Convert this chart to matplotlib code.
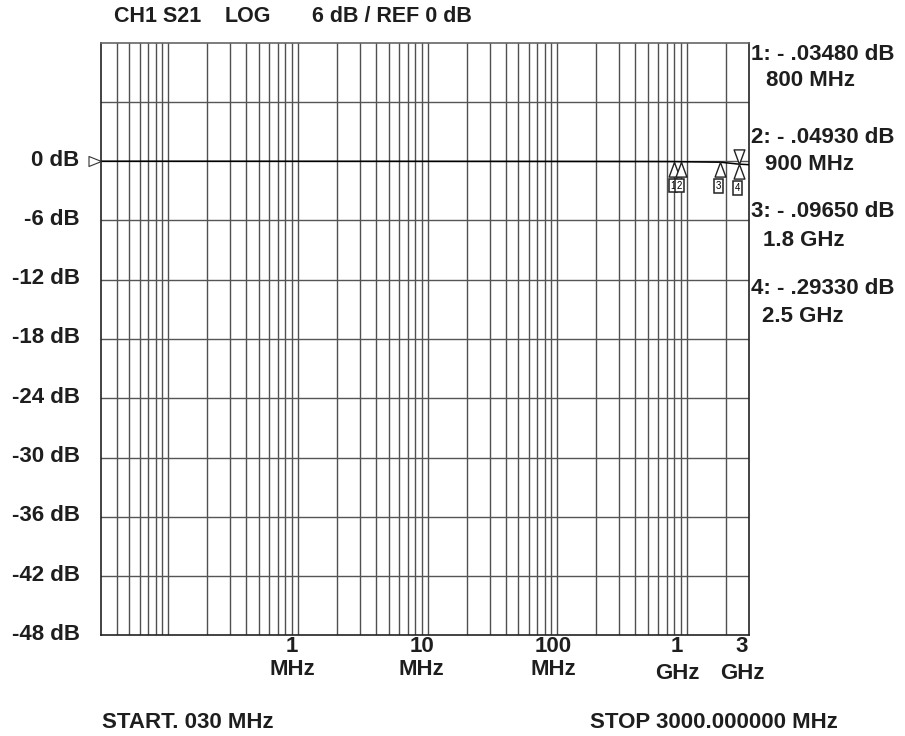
import numpy as np
import matplotlib
matplotlib.use("Agg")
import matplotlib.pyplot as plt
from matplotlib.path import Path

plt.rcParams["font.family"] = ["Liberation Sans", "DejaVu Sans"]
plt.rcParams["font.weight"] = "bold"

# trace (MHz, dB)
freq_mhz = [0.03, 0.1, 1, 10, 100, 500, 800, 900, 1800, 2500, 3000]
s21_db = [0.0, 0.0, -0.005, -0.01, -0.02, -0.03, -0.0348, -0.0493, -0.0965, -0.2933, -0.35]

# markers
mk_freq = [800, 900, 1800, 2500]
mk_db = [-0.0348, -0.0493, -0.0965, -0.2933]
mk_name = ["1", "2", "3", "4"]
mk_lines = [("1: - .03480 dB", "800 MHz"),
            ("2: - .04930 dB", "900 MHz"),
            ("3: - .09650 dB", "1.8 GHz"),
            ("4: - .29330 dB", "2.5 GHz")]

y_grid = [12, 6, 0, -6, -12, -18, -24, -30, -36, -42, -48]
y_lab_val = [0, -6, -12, -18, -24, -30, -36, -42, -48]

x_tick_pos = [1, 10, 100, 1000, 3000]
x_tick_num = ["1", "10", "100", "1", "3"]
x_tick_unit = ["MHz", "MHz", "MHz", "GHz", "GHz"]
x_tick_dx = [-6, -6, -4, -10, -7]

FS = 16
TXT = "#1e1e1e"

W, H = 905, 736
fig = plt.figure(figsize=(W / 100, H / 100), dpi=100)
ax = fig.add_axes([100.5 / W, 1 - 635.3 / H, 648.4 / W, 592.6 / H])

ax.set_xscale("log")
ax.set_xlim(0.03, 3000)
ax.set_ylim(-48, 12)
ax.set_xticks([])
ax.set_yticks([])
ax.minorticks_off()

# log grid: every 1..9 per decade
grid_x = []
for dec in [0.01, 0.1, 1, 10, 100, 1000]:
    for k in range(1, 10):
        f = dec * k
        if 0.03 < f < 3000:
            grid_x.append(f)
for f in grid_x:
    ax.axvline(f, color="#505050", lw=1.0, zorder=1)
for v in y_grid[1:-1]:
    ax.axhline(v, color="#555555", lw=1.0, zorder=1)

for s in ax.spines.values():
    s.set_color("#222222")
    s.set_linewidth(1.2)
ax.spines["top"].set_color("#666666")

# level labels
for v in y_lab_val:
    ax.annotate(f"{v} dB", xy=(0, v), xycoords=("axes fraction", "data"),
                xytext=(-21, 1), textcoords="offset pixels",
                ha="right", va="center", fontsize=FS, fontweight="bold", color=TXT)

# trace
ax.plot(freq_mhz, s21_db, color="black", lw=1.1, zorder=3)

# marker triangles (apex on the trace)
up = Path([(0, 0), (-0.5, -1.35), (0.5, -1.35), (0, 0)],
          [Path.MOVETO, Path.LINETO, Path.LINETO, Path.CLOSEPOLY])
down = Path([(0, 0), (-0.5, 1.35), (0.5, 1.35), (0, 0)],
            [Path.MOVETO, Path.LINETO, Path.LINETO, Path.CLOSEPOLY])
ax.plot(mk_freq, mk_db, ls="none", marker=up, ms=21, mfc="white",
        mec="#222222", mew=1.0, zorder=4, clip_on=False)
ax.plot(mk_freq[-1], mk_db[-1], ls="none", marker=down, ms=21, mfc="white",
        mec="#222222", mew=1.0, zorder=4, clip_on=False)
for f, v, n in zip(mk_freq, mk_db, mk_name):
    ax.annotate(n, xy=(f, v), xytext=(-1.5, -24), textcoords="offset pixels",
                ha="center", va="center", fontsize=7, fontweight="normal",
                bbox=dict(boxstyle="square,pad=0.18", fc="white", ec="#222222", lw=1.1),
                zorder=5)

# reference level arrow on the left
ref = Path([(0, 0), (-1, 0.4), (-1, -0.4), (0, 0)],
           [Path.MOVETO, Path.LINETO, Path.LINETO, Path.CLOSEPOLY])
ax.plot([0], [0], ls="none", marker=ref, ms=18, mfc="white", mec="#333333",
        mew=0.8, transform=ax.get_yaxis_transform(), clip_on=False, zorder=5)

# frequency labels
for f, num, unit, dx in zip(x_tick_pos, x_tick_num, x_tick_unit, x_tick_dx):
    ax.annotate(num, xy=(f, 0), xycoords=("data", "axes fraction"),
                xytext=(dx, -11), textcoords="offset pixels",
                ha="center", va="center", fontsize=FS, fontweight="bold", color=TXT)
    dy = -38 if unit == "GHz" else -34
    ax.annotate(unit, xy=(f, 0), xycoords=("data", "axes fraction"),
                xytext=(dx, dy), textcoords="offset pixels",
                ha="center", va="center", fontsize=FS, fontweight="bold", color=TXT)


def ftext(x, y, s, size=FS, **kw):
    fig.text(x / W, 1 - y / H, s, fontsize=size, fontweight="bold",
             color=TXT, va="center", **kw)


# header
ftext(114, 17, "CH1 S21", size=15.5)
ftext(225, 17, "LOG", size=15.5)
ftext(312, 17, "6 dB / REF 0 dB", size=15.5)

# marker readout
rows = [(54.5, 81), (137.5, 164), (211.5, 240), (288, 316)]
indent = [766, 765, 763, 762]
for (l1, l2), (y1, y2), xi in zip(mk_lines, rows, indent):
    ftext(751, y1, l1)
    ftext(xi, y2, l2)

# footer
ftext(102, 722, "START. 030 MHz")
ftext(590, 722, "STOP 3000.000000 MHz")

fig.savefig("out.png", dpi=100, facecolor="white")
